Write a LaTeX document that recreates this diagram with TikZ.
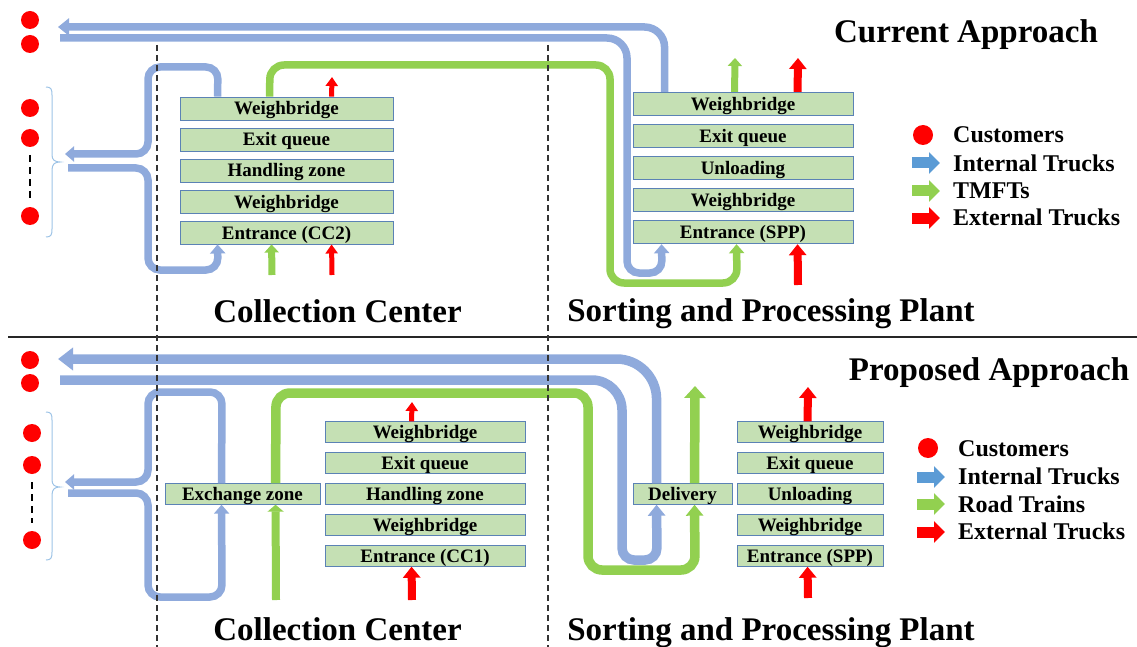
\documentclass[tikz,border=0pt]{standalone}
\usepackage{fontspec}
\setmainfont{Liberation Serif}
\usetikzlibrary{arrows.meta}
\definecolor{bl}{HTML}{8FAADC}
\definecolor{lgb}{HTML}{5B9BD5}
\definecolor{gr}{HTML}{92D050}
\definecolor{rd}{HTML}{FF0000}
\definecolor{boxg}{HTML}{C5E0B4}
\definecolor{boxb}{HTML}{5B82B5}
\definecolor{brc}{HTML}{9DC3E6}
\begin{document}
\begin{tikzpicture}[x=1pt,y=-1pt,
  zone/.style={draw=boxb, fill=boxg, line width=0.9pt, inner sep=0pt, text height=13pt, text depth=0pt, font=\bfseries\fontsize{19}{20}\selectfont},
  czone/.style={zone, minimum width=213pt, minimum height=23pt},
  szone/.style={zone, minimum width=220pt, minimum height=23.5pt},
  c1zone/.style={zone, minimum width=200pt, minimum height=20.5pt},
  s2zone/.style={zone, minimum width=146pt, minimum height=20.5pt},
  cust/.style={circle, fill=rd, inner sep=0pt, minimum size=18pt},
  title/.style={anchor=base, inner sep=0pt, font=\bfseries\fontsize{33}{36}\selectfont},
  legtext/.style={anchor=west, inner sep=0pt, text height=16pt, text depth=0pt, font=\bfseries\fontsize{24}{26}\selectfont},
  bthin/.style={draw=bl, line width=7.5pt, rounded corners=14pt},
  bthick/.style={draw=bl, line width=9.5pt},
  gthin/.style={draw=gr, line width=7.5pt, rounded corners=14pt},
  gthick/.style={draw=gr, line width=9.5pt, rounded corners=14pt},
  tipS/.style={-{Triangle[width=15pt,length=9pt]}},
  tipM/.style={-{Triangle[width=17pt,length=11pt]}},
  tipL/.style={-{Triangle[width=22pt,length=15pt]}},
  redS/.style={draw=rd, line width=5pt, -{Triangle[width=12pt,length=9pt]}},
  redL/.style={draw=rd, line width=8pt, -{Triangle[width=17pt,length=11pt]}},
  greenS/.style={draw=gr, line width=7pt, -{Triangle[width=14pt,length=8pt]}},
  legarrow/.style={line width=11pt, -{Triangle[width=21pt,length=11pt]}},
  brace/.style={draw=brc, line width=1pt},
  divider/.style={draw=black!80, line width=1.2pt, dash pattern=on 6pt off 4pt},
  cdash/.style={draw=black, line width=1.6pt, dash pattern=on 7pt off 5pt}
]
\useasboundingbox (0,0) rectangle (1137,647);

% ================= TOP: CURRENT APPROACH =================
\node[cust] (cu1) at (30,20) {};
\node[cust] (cu2) at (30,44) {};
\node[cust] (cu3) at (30,108) {};
\node[cust] (cu4) at (30,138) {};
\node[cust] (cu5) at (30,216) {};
\coordinate (cdA) at (30,155);
\coordinate (cdB) at (30,200);
\draw[cdash] (cdA) -- (cdB);
\draw[brace] (46,87) .. controls (51,87) and (52,89) .. (52,95) -- (52,155)
  .. controls (52,160) and (55,162) .. (60,162) .. controls (55,162) and (52,164) .. (52,170)
  -- (52,229) .. controls (52,235) and (51,237) .. (46,237);

\node[czone] (c2wb1) at (286.5,108.5) {Weighbridge};
\node[czone] (c2eq)  at (286.5,139.5) {Exit queue};
\node[czone] (c2hz)  at (286.5,170.5) {Handling zone};
\node[czone] (c2wb2) at (286.5,201.5) {Weighbridge};
\node[czone] (c2en)  at (286.5,232.5) {Entrance (CC2)};

\node[szone] (s1wb1) at (743,104) {Weighbridge};
\node[szone] (s1eq)  at (743,136) {Exit queue};
\node[szone] (s1ul)  at (743,168) {Unloading};
\node[szone] (s1wb2) at (743,200) {Weighbridge};
\node[szone] (s1en)  at (743,232) {Entrance (SPP)};

\coordinate (tA) at (58,27);
\coordinate (tB) at (60,38);
\draw[bthin, rounded corners=20pt, tipM] ([xshift=32pt]s1wb1.north west) |- (tA);
\draw[bthin, tipS] (tB) [rounded corners=20pt] -- (627,38) [rounded corners=12pt] -- (627,273) -- (662,273) -- ([xshift=29pt]s1en.south west);
\draw[gthin, tipS] ([xshift=90pt]c2wb1.north west) -- (270,65) -- (610,65) -- (610,283) -- (737,283) -- ([xshift=104pt]s1en.south west);

\coordinate (tC) at (65,154);
\coordinate (tD) at (68,168);
\draw[bthin, rounded corners=12pt, tipS] ([xshift=38pt]c2wb1.north west) -- (218,67) -- (148,67) -- (148,154) -- (tC);
\draw[bthin, rounded corners=12pt, tipS] (tD) -- (148,168) -- (148,270) -- (218,270) -- ([xshift=38pt]c2en.south west);

\coordinate (g1) at (272,275);
\coordinate (r1) at (332,275);
\coordinate (r2) at (332,77);
\draw[greenS] (g1) -- ([xshift=92pt]c2en.south west);
\draw[redS] (r1) -- ([xshift=152pt]c2en.south west);
\draw[redS] ([xshift=152pt]c2wb1.north west) -- (r2);

\coordinate (g2) at (735,58);
\coordinate (r3) at (798,58);
\coordinate (r4) at (798,285);
\draw[greenS] ([xshift=102pt]s1wb1.north west) -- (g2);
\draw[redL] ([xshift=165pt]s1wb1.north west) -- (r3);
\draw[redL] (r4) -- ([xshift=165pt]s1en.south west);

\node[title] (t1) at (966,43) {Current Approach};
\node[title] (t2) at (337.5,322) {Collection Center};
\node[title] (t3) at (771,321) {Sorting and Processing Plant};

\node[cust, minimum size=20pt] (lg1) at (923,135) {};
\node[legtext] (lt1) at (953,135) {Customers};
\coordinate (la1) at (912,163); \coordinate (lb1) at (940,163);
\coordinate (la2) at (912,191); \coordinate (lb2) at (940,191);
\coordinate (la3) at (912,218); \coordinate (lb3) at (940,218);
\draw[legarrow, draw=lgb, fill=lgb] (la1) -- (lb1);
\draw[legarrow, draw=gr, fill=gr] (la2) -- (lb2);
\draw[legarrow, draw=rd, fill=rd] (la3) -- (lb3);
\node[legtext] (lt2) at (953,163.5) {Internal Trucks};
\node[legtext] (lt3) at (953,191) {TMFTs};
\node[legtext] (lt4) at (953,217.5) {External Trucks};

% separator
\coordinate (sep1) at (8,337);
\coordinate (sep2) at (1137,337);
\draw[black!85, line width=1.3pt] (sep1) -- (sep2);

% ================= BOTTOM: PROPOSED APPROACH =================
\node[cust] (cu6) at (30,360) {};
\node[cust] (cu7) at (30,383) {};
\node[cust] (cu8) at (32,433) {};
\node[cust] (cu9) at (32,465) {};
\node[cust] (cu10) at (32,540) {};
\coordinate (cdC) at (32,482);
\coordinate (cdD) at (32,523);
\draw[cdash] (cdC) -- (cdD);
\draw[brace] (46,412) .. controls (51,412) and (52,414) .. (52,420) -- (52,480)
  .. controls (52,485) and (55,487) .. (60,487) .. controls (55,487) and (52,489) .. (52,495)
  -- (52,552) .. controls (52,558) and (51,560) .. (46,560);

\node[zone, minimum width=155pt, minimum height=20.5pt] (ex) at (242.5,494) {Exchange zone};
\node[zone, minimum width=99pt, minimum height=20.5pt] (dl) at (682.5,494) {Delivery};

\node[c1zone] (c1wb1) at (425,432) {Weighbridge};
\node[c1zone] (c1eq)  at (425,463) {Exit queue};
\node[c1zone] (c1hz)  at (425,494) {Handling zone};
\node[c1zone] (c1wb2) at (425,525) {Weighbridge};
\node[c1zone] (c1en)  at (425,556) {Entrance (CC1)};

\node[s2zone] (s2wb1) at (810,432) {Weighbridge};
\node[s2zone] (s2eq)  at (810,463) {Exit queue};
\node[s2zone] (s2ul)  at (810,494) {Unloading};
\node[s2zone] (s2wb2) at (810,525) {Weighbridge};
\node[s2zone] (s2en)  at (810,556) {Entrance (SPP)};

\coordinate (tE) at (58,359);
\coordinate (tF) at (60,380);
\draw[bthick, rounded corners=40pt, tipL] ([xshift=24pt]dl.north west) |- (tE);
\draw[bthick, tipM] (tF) [rounded corners=30pt] -- (622,380) [rounded corners=12pt] -- (622,560) -- (657,560) -- ([xshift=24pt]dl.south west);

\coordinate (g3) at (276,600);
\draw[greenS, line width=8pt, -{Triangle[width=16pt,length=7pt]}] (g3) -- ([xshift=111pt]ex.south west);
\draw[gthick, tipM] ([xshift=111pt]ex.north west) -- (276,393) -- (588,393) -- (588,570) -- (695,570) -- ([xshift=62pt]dl.south west);
\coordinate (g4) at (695,386);
\draw[gthick, -{Triangle[width=21pt,length=12pt]}] ([xshift=62pt]dl.north west) -- (g4);

\coordinate (tG) at (65,482);
\coordinate (tH) at (68,493);
\draw[bthin, rounded corners=12pt, tipS] ([xshift=57pt]ex.north west) -- (222,392) -- (148,392) -- (148,482) -- (tG);
\draw[bthin, rounded corners=12pt, tipS] (tH) -- (148,493) -- (148,597) -- (222,597) -- ([xshift=57pt]ex.south west);

\coordinate (r5) at (412,402);
\coordinate (r6) at (412,600);
\coordinate (r7) at (808,387);
\coordinate (r8) at (808,598);
\draw[redS] ([xshift=87pt]c1wb1.north west) -- (r5);
\draw[redL] (r6) -- ([xshift=87pt]c1en.south west);
\draw[redL] ([xshift=71pt]s2wb1.north west) -- (r7);
\draw[redL] (r8) -- ([xshift=71pt]s2en.south west);

\node[title] (t4) at (989,380) {Proposed Approach};
\node[title] (t5) at (337.5,640) {Collection Center};
\node[title] (t6) at (771,640) {Sorting and Processing Plant};

\node[cust, minimum size=20pt] (lg2) at (928,448) {};
\node[legtext] (lt5) at (958,448.5) {Customers};
\coordinate (la4) at (917,477); \coordinate (lb4) at (945,477);
\coordinate (la5) at (917,504); \coordinate (lb5) at (945,504);
\coordinate (la6) at (917,532); \coordinate (lb6) at (945,532);
\draw[legarrow, draw=lgb, fill=lgb] (la4) -- (lb4);
\draw[legarrow, draw=gr, fill=gr] (la5) -- (lb5);
\draw[legarrow, draw=rd, fill=rd] (la6) -- (lb6);
\node[legtext] (lt6) at (958,476.5) {Internal Trucks};
\node[legtext] (lt7) at (958,504) {Road Trains};
\node[legtext] (lt8) at (958,531.5) {External Trucks};

% dashed dividers (on top)
\coordinate (d1a) at (157,45); \coordinate (d1b) at (157,647);
\coordinate (d2a) at (548,45); \coordinate (d2b) at (548,647);
\draw[divider] (d1a) -- (d1b);
\draw[divider] (d2a) -- (d2b);
\end{tikzpicture}
\end{document}
